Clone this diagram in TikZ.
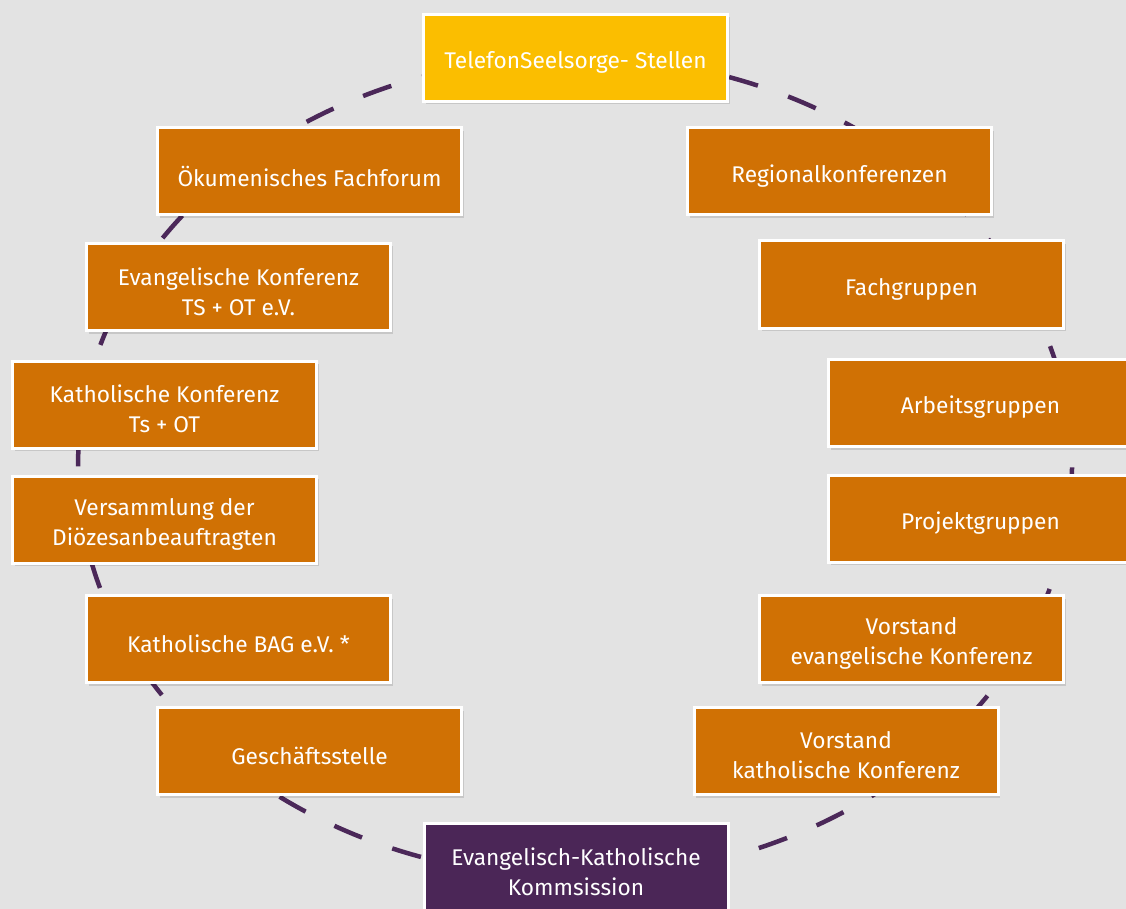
\documentclass[tikz,border=0pt]{standalone}
\usepackage{fontspec}
\setmainfont{Fira Sans}
\usetikzlibrary{shadows}
\definecolor{bgc}{HTML}{E3E3E3}
\definecolor{boxorange}{HTML}{D07104}
\definecolor{boxyellow}{HTML}{FBBE00}
\definecolor{boxpurple}{HTML}{4B2657}
\definecolor{ringc}{HTML}{4B2859}
\tikzset{
  orgbox/.style={draw=white, line width=3pt, fill=boxorange,
    minimum width=304pt, minimum height=87pt, inner sep=0pt,
    drop shadow={shadow xshift=2pt, shadow yshift=-3pt, opacity=0.12, fill=black}},
  topbox/.style={orgbox, fill=boxyellow},
  bottombox/.style={orgbox, fill=boxpurple},
  lbl/.style={text=white, align=center, inner sep=0pt, yshift=-4.5pt,
    font=\fontsize{22.7}{30}\selectfont},
  ring/.style={draw=ringc, line width=4.5pt, dash pattern=on 30pt off 32.1pt, dash phase=30.7pt}
}
\begin{document}
\begin{tikzpicture}[x=1pt,y=-1pt]
\useasboundingbox (0,0) rectangle (1126,909);
\fill[bgc] (0,0) rectangle (1126,909);
\coordinate (c) at (575,467);
\draw[ring] (c) ellipse [x radius=497pt, y radius=410pt];
\node[topbox, label={[lbl]center:{TelefonSeelsorge- Stellen}}] (tel) at (575.5,58) {};
\node[orgbox, label={[lbl]center:{Ökumenisches Fachforum}}] (oek) at (309.5,171.5) {};
\node[orgbox, label={[lbl]center:{Regionalkonferenzen}}] (reg) at (839.5,171.5) {};
\node[orgbox, label={[lbl]center:{Evangelische Konferenz\\TS + OT e.V.}}] (evk) at (238.5,287) {};
\node[orgbox, label={[lbl]center:{Fachgruppen}}] (fach) at (911.5,284.5) {};
\node[orgbox, label={[lbl]center:{Katholische Konferenz\\Ts + OT}}] (kak) at (164.5,404.5) {};
\node[orgbox, label={[lbl]center:{Arbeitsgruppen}}] (arb) at (980.5,403) {};
\node[orgbox, label={[lbl]center:{Versammlung der\\Diözesanbeauftragten}}] (ver) at (164.5,519.5) {};
\node[orgbox, label={[lbl]center:{Projektgruppen}}] (proj) at (980.5,518.5) {};
\node[orgbox, label={[lbl]center:{Katholische BAG e.V. *}}] (bag) at (238.5,639) {};
\node[orgbox, label={[lbl]center:{Vorstand\\evangelische Konferenz}}] (vev) at (911.5,639) {};
\node[orgbox, label={[lbl]center:{Geschäftsstelle}}] (ges) at (309.5,751) {};
\node[orgbox, label={[lbl]center:{Vorstand\\katholische Konferenz}}] (vka) at (846,751) {};
\node[bottombox, label={[lbl]center:{Evangelisch-Katholische\\Kommsission}}] (ekk) at (576,867) {};
\end{tikzpicture}
\end{document}
